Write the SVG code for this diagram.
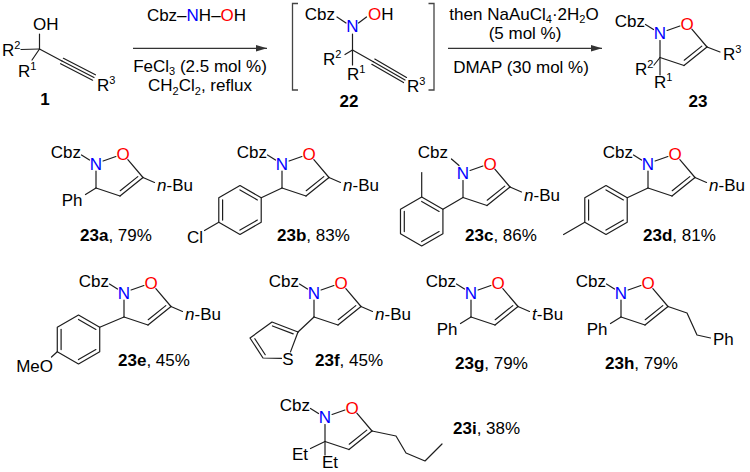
<svg xmlns="http://www.w3.org/2000/svg" width="750" height="472" viewBox="0 0 750 472">
<style>
.b{stroke:#1e1e1e;stroke-width:1.2;fill:none;stroke-linecap:round;stroke-linejoin:round}
.br{stroke:#444;stroke-width:1.3;fill:none}
.ar{stroke:#333;stroke-width:1.3;fill:none}
text{font-family:"Liberation Sans",Arial,sans-serif;font-size:17px;fill:#000}
.m{text-anchor:middle}
.e{text-anchor:end}
.N{fill:#0000ff}
.O{fill:#ff0000}
.bd{font-weight:bold}
.s{font-size:11px}
.i{font-style:italic}
</style>
<defs>
<marker id="ah" markerUnits="userSpaceOnUse" markerWidth="12" markerHeight="8" refX="11" refY="4" orient="auto"><path d="M0,0.8 L11,4 L0,7.2 Z" fill="#333"/></marker>
</defs>
<rect width="750" height="472" fill="#fff"/>

<g id="connectors">
<line class="ar" x1="133" y1="48.3" x2="267" y2="48.3" marker-end="url(#ah)"/>
<line class="ar" x1="448" y1="48.3" x2="602" y2="48.3" marker-end="url(#ah)"/>
</g>

<g id="cond1">
<text class="m" x="196.5" y="21">Cbz–<tspan class="N">N</tspan>H–<tspan class="O">O</tspan>H</text>
<text class="m" x="200" y="71.5">FeCl<tspan class="s" dy="3.5">3</tspan><tspan dy="-3.5"> (2.5 mol %)</tspan></text>
<text class="m" x="200" y="91">CH<tspan class="s" dy="3.5">2</tspan><tspan dy="-3.5">Cl</tspan><tspan class="s" dy="3.5">2</tspan><tspan dy="-3.5">, reflux</tspan></text>
</g>

<g id="cond2">
<text class="m" x="524" y="19.5">then NaAuCl<tspan class="s" dy="3">4</tspan><tspan dy="-3">·2H</tspan><tspan class="s" dy="3">2</tspan><tspan dy="-3">O</tspan></text>
<text class="m" x="525" y="38.5">(5 mol %)</text>
<text class="m" x="521" y="73">DMAP (30 mol %)</text>
</g>

<g id="cpd1">
<text x="33" y="30">OH</text>
<line class="b" x1="39.5" y1="49" x2="39.5" y2="34"/>
<text x="2" y="56">R<tspan class="s" dy="-7">2</tspan></text>
<line class="b" x1="21" y1="49.5" x2="39.5" y2="49"/>
<line class="b" x1="39.5" y1="49" x2="32" y2="60"/>
<text x="18" y="77">R<tspan class="s" dy="-7">1</tspan></text>
<line class="b" x1="39.5" y1="49" x2="62" y2="61"/>
<line class="b" x1="62" y1="61" x2="94" y2="77.5"/>
<line class="b" x1="60.6" y1="63.7" x2="92.6" y2="80.2"/>
<line class="b" x1="63.4" y1="58.3" x2="95.4" y2="74.8"/>
<text x="97" y="91">R<tspan class="s" dy="-7">3</tspan></text>
<text class="m bd" x="45" y="105">1</text>
</g>

<g id="cpd22">
<path class="br" d="M298,3.5 H292.5 V90 H298"/>
<path class="br" d="M428.5,3.5 H434 V90 H428.5"/>
<text class="e" x="335" y="20">Cbz</text>
<line class="b" x1="337" y1="17" x2="346" y2="23"/>
<text class="m N" x="352.5" y="32">N</text>
<line class="b" x1="358.5" y1="23" x2="366.5" y2="17"/>
<text x="368" y="20"><tspan class="O">O</tspan>H</text>
<line class="b" x1="352.5" y1="34" x2="352.5" y2="50"/>
<line class="b" x1="352.5" y1="50" x2="345" y2="54.5"/>
<text x="323" y="65">R<tspan class="s" dy="-7">2</tspan></text>
<line class="b" x1="352.5" y1="50" x2="352.5" y2="65"/>
<text x="347" y="80">R<tspan class="s" dy="-7">1</tspan></text>
<line class="b" x1="352.5" y1="50" x2="373.3" y2="61.7"/>
<line class="b" x1="373.3" y1="61.7" x2="405" y2="80"/>
<line class="b" x1="371.8" y1="64.3" x2="403.5" y2="82.6"/>
<line class="b" x1="374.8" y1="59.1" x2="406.5" y2="77.4"/>
<text x="407" y="92">R<tspan class="s" dy="-7">3</tspan></text>
<text class="m bd" x="349" y="107">22</text>
</g>

<g id="cpd23" transform="translate(660,33)">
<line class="b" x1="-6.5" y1="-3.5" x2="-14.5" y2="-8.5"/>
<text class="e" x="-15" y="-6">Cbz</text>
<text class="m N" x="0" y="6">N</text>
<text class="m O" x="27" y="-3.5">O</text>
<line class="b" x1="7.1" y1="-2.5" x2="19.9" y2="-7"/>
<line class="b" x1="31.85" y1="-3.8" x2="47" y2="14"/>
<line class="b" x1="47" y1="14" x2="24" y2="32.5"/>
<line class="b" x1="24.2" y1="27.2" x2="41.8" y2="13.1"/>
<line class="b" x1="24" y1="32.5" x2="0" y2="24.5"/>
<line class="b" x1="0" y1="24.5" x2="0" y2="7.5"/>
<line class="b" x1="0" y1="24.5" x2="-6" y2="32"/>
<text x="-25" y="42">R<tspan class="s" dy="-7">2</tspan></text>
<line class="b" x1="0" y1="24.5" x2="0" y2="42"/>
<text x="-6" y="54.5">R<tspan class="s" dy="-7">1</tspan></text>
<line class="b" x1="47" y1="14" x2="60" y2="19"/>
<text x="63" y="27">R<tspan class="s" dy="-7">3</tspan></text>
<text class="m bd" x="38" y="74">23</text>
</g>

<g id="p23a" transform="translate(96,163.5)">
<line class="b" x1="-6.5" y1="-3.5" x2="-14.5" y2="-8.5"/>
<text class="e" x="-15" y="-6">Cbz</text>
<text class="m N" x="0" y="6">N</text>
<text class="m O" x="27" y="-3.5">O</text>
<line class="b" x1="7.1" y1="-2.5" x2="19.9" y2="-7"/>
<line class="b" x1="31.85" y1="-3.8" x2="47" y2="14"/>
<line class="b" x1="47" y1="14" x2="24" y2="32.5"/>
<line class="b" x1="24.2" y1="27.2" x2="41.8" y2="13.1"/>
<line class="b" x1="24" y1="32.5" x2="0" y2="24.5"/>
<line class="b" x1="0" y1="24.5" x2="0" y2="7.5"/>
<line class="b" x1="47" y1="14" x2="58.5" y2="19"/>
<text x="61" y="27.5"><tspan class="i">n</tspan>-Bu</text>
<line class="b" x1="0" y1="24.5" x2="-10.5" y2="31"/>
<text class="e" x="-13.5" y="42.5">Ph</text>
</g>
<text x="80" y="241"><tspan class="bd">23a</tspan>, 79%</text>

<g id="p23b" transform="translate(282,163.5)">
<line class="b" x1="-6.5" y1="-3.5" x2="-14.5" y2="-8.5"/>
<text class="e" x="-15" y="-6">Cbz</text>
<text class="m N" x="0" y="6">N</text>
<text class="m O" x="27" y="-3.5">O</text>
<line class="b" x1="7.1" y1="-2.5" x2="19.9" y2="-7"/>
<line class="b" x1="31.85" y1="-3.8" x2="47" y2="14"/>
<line class="b" x1="47" y1="14" x2="24" y2="32.5"/>
<line class="b" x1="24.2" y1="27.2" x2="41.8" y2="13.1"/>
<line class="b" x1="24" y1="32.5" x2="0" y2="24.5"/>
<line class="b" x1="0" y1="24.5" x2="0" y2="7.5"/>
<line class="b" x1="47" y1="14" x2="58.5" y2="19"/>
<text x="61" y="27.5"><tspan class="i">n</tspan>-Bu</text>
<line class="b" x1="0" y1="24.5" x2="-20.78" y2="34.25"/>
<polygon class="b" points="-20.78,34.25 -42,22 -63.22,34.25 -63.22,58.75 -42,71 -20.78,58.75"/>
<line class="b" x1="-24.6" y1="36.45" x2="-42" y2="26.41"/>
<line class="b" x1="-59.4" y1="36.45" x2="-59.4" y2="56.55"/>
<line class="b" x1="-42" y1="66.59" x2="-24.6" y2="56.55"/>
<line class="b" x1="-63.22" y1="58.75" x2="-77.5" y2="67"/>
<text class="e" x="-79" y="79.5">Cl</text>
</g>
<text x="277" y="241"><tspan class="bd">23b</tspan>, 83%</text>

<g id="p23c" transform="translate(463,173)">
<line class="b" x1="-4" y1="-7.5" x2="-11.5" y2="-14"/>
<text class="e" x="-15" y="-15">Cbz</text>
<text class="m N" x="0" y="6">N</text>
<text class="m O" x="27" y="-3.5">O</text>
<line class="b" x1="7.1" y1="-2.5" x2="19.9" y2="-7"/>
<line class="b" x1="31.85" y1="-3.8" x2="47" y2="14"/>
<line class="b" x1="47" y1="14" x2="24" y2="32.5"/>
<line class="b" x1="24.2" y1="27.2" x2="41.8" y2="13.1"/>
<line class="b" x1="24" y1="32.5" x2="0" y2="24.5"/>
<line class="b" x1="0" y1="24.5" x2="0" y2="7.5"/>
<line class="b" x1="47" y1="14" x2="58.5" y2="19"/>
<text x="61" y="27.5"><tspan class="i">n</tspan>-Bu</text>
<line class="b" x1="0" y1="24.5" x2="-20.08" y2="36.25"/>
<polygon class="b" points="-20.08,36.25 -41.3,24 -62.52,36.25 -62.52,60.75 -41.3,73 -20.08,60.75"/>
<line class="b" x1="-23.9" y1="38.45" x2="-41.3" y2="28.41"/>
<line class="b" x1="-58.7" y1="38.45" x2="-58.7" y2="58.55"/>
<line class="b" x1="-41.3" y1="68.59" x2="-23.9" y2="58.55"/>
<line class="b" x1="-41.3" y1="24" x2="-41.3" y2="-0.5"/>
</g>
<text x="465" y="241"><tspan class="bd">23c</tspan>, 86%</text>

<g id="p23d" transform="translate(648,163.5)">
<line class="b" x1="-6.5" y1="-3.5" x2="-14.5" y2="-8.5"/>
<text class="e" x="-15" y="-6">Cbz</text>
<text class="m N" x="0" y="6">N</text>
<text class="m O" x="27" y="-3.5">O</text>
<line class="b" x1="7.1" y1="-2.5" x2="19.9" y2="-7"/>
<line class="b" x1="31.85" y1="-3.8" x2="47" y2="14"/>
<line class="b" x1="47" y1="14" x2="24" y2="32.5"/>
<line class="b" x1="24.2" y1="27.2" x2="41.8" y2="13.1"/>
<line class="b" x1="24" y1="32.5" x2="0" y2="24.5"/>
<line class="b" x1="0" y1="24.5" x2="0" y2="7.5"/>
<line class="b" x1="47" y1="14" x2="58.5" y2="19"/>
<text x="61" y="27.5"><tspan class="i">n</tspan>-Bu</text>
<line class="b" x1="0" y1="24.5" x2="-20.78" y2="34.25"/>
<polygon class="b" points="-20.78,34.25 -42,22 -63.22,34.25 -63.22,58.75 -42,71 -20.78,58.75"/>
<line class="b" x1="-24.6" y1="36.45" x2="-42" y2="26.41"/>
<line class="b" x1="-59.4" y1="36.45" x2="-59.4" y2="56.55"/>
<line class="b" x1="-42" y1="66.59" x2="-24.6" y2="56.55"/>
<line class="b" x1="-63.22" y1="58.75" x2="-84.4" y2="71"/>
</g>
<text x="643" y="241"><tspan class="bd">23d</tspan>, 81%</text>

<g id="p23e" transform="translate(124,292.5)">
<line class="b" x1="-6.5" y1="-3.5" x2="-14.5" y2="-8.5"/>
<text class="e" x="-15" y="-6">Cbz</text>
<text class="m N" x="0" y="6">N</text>
<text class="m O" x="27" y="-3.5">O</text>
<line class="b" x1="7.1" y1="-2.5" x2="19.9" y2="-7"/>
<line class="b" x1="31.85" y1="-3.8" x2="47" y2="14"/>
<line class="b" x1="47" y1="14" x2="24" y2="32.5"/>
<line class="b" x1="24.2" y1="27.2" x2="41.8" y2="13.1"/>
<line class="b" x1="24" y1="32.5" x2="0" y2="24.5"/>
<line class="b" x1="0" y1="24.5" x2="0" y2="7.5"/>
<line class="b" x1="47" y1="14" x2="58.5" y2="19"/>
<text x="61" y="27.5"><tspan class="i">n</tspan>-Bu</text>
<line class="b" x1="0" y1="24.5" x2="-24.28" y2="34.75"/>
<polygon class="b" points="-24.28,34.75 -45.5,22.5 -66.72,34.75 -66.72,59.25 -45.5,71.5 -24.28,59.25"/>
<line class="b" x1="-28.1" y1="36.95" x2="-45.5" y2="26.91"/>
<line class="b" x1="-62.9" y1="36.95" x2="-62.9" y2="57.05"/>
<line class="b" x1="-45.5" y1="67.09" x2="-28.1" y2="57.05"/>
<line class="b" x1="-66.72" y1="59.25" x2="-72.5" y2="64.5"/>
<text class="e" x="-71" y="79.5">MeO</text>
</g>
<text x="118" y="366"><tspan class="bd">23e</tspan>, 45%</text>

<g id="p23f" transform="translate(314,292.5)">
<line class="b" x1="-6.5" y1="-3.5" x2="-14.5" y2="-8.5"/>
<text class="e" x="-15" y="-6">Cbz</text>
<text class="m N" x="0" y="6">N</text>
<text class="m O" x="27" y="-3.5">O</text>
<line class="b" x1="7.1" y1="-2.5" x2="19.9" y2="-7"/>
<line class="b" x1="31.85" y1="-3.8" x2="47" y2="14"/>
<line class="b" x1="47" y1="14" x2="24" y2="32.5"/>
<line class="b" x1="24.2" y1="27.2" x2="41.8" y2="13.1"/>
<line class="b" x1="24" y1="32.5" x2="0" y2="24.5"/>
<line class="b" x1="0" y1="24.5" x2="0" y2="7.5"/>
<line class="b" x1="47" y1="14" x2="58.5" y2="19"/>
<text x="61" y="27.5"><tspan class="i">n</tspan>-Bu</text>
<line class="b" x1="0" y1="24.5" x2="-16" y2="39.5"/>
<polyline class="b" points="-16,39.5 -42,29.5 -64,45.5 -51,65.5 -32.5,65.9"/>
<line class="b" x1="-23.5" y1="59.4" x2="-16" y2="39.5"/>
<line class="b" x1="-20.8" y1="41.4" x2="-41.56" y2="33.44"/>
<line class="b" x1="-59.16" y1="46.24" x2="-48.76" y2="62.24"/>
<text class="m" x="-26" y="72">S</text>
</g>
<text x="315" y="366"><tspan class="bd">23f</tspan>, 45%</text>

<g id="p23g" transform="translate(471,292.5)">
<line class="b" x1="-6.5" y1="-3.5" x2="-14.5" y2="-8.5"/>
<text class="e" x="-15" y="-6">Cbz</text>
<text class="m N" x="0" y="6">N</text>
<text class="m O" x="27" y="-3.5">O</text>
<line class="b" x1="7.1" y1="-2.5" x2="19.9" y2="-7"/>
<line class="b" x1="31.85" y1="-3.8" x2="47" y2="14"/>
<line class="b" x1="47" y1="14" x2="24" y2="32.5"/>
<line class="b" x1="24.2" y1="27.2" x2="41.8" y2="13.1"/>
<line class="b" x1="24" y1="32.5" x2="0" y2="24.5"/>
<line class="b" x1="0" y1="24.5" x2="0" y2="7.5"/>
<line class="b" x1="47" y1="14" x2="58.5" y2="19"/>
<text x="61" y="27.5"><tspan class="i">t</tspan>-Bu</text>
<line class="b" x1="0" y1="24.5" x2="-10.5" y2="31"/>
<text class="e" x="-13.5" y="42.5">Ph</text>
</g>
<text x="455" y="369"><tspan class="bd">23g</tspan>, 79%</text>

<g id="p23h" transform="translate(621,292.5)">
<line class="b" x1="-6.5" y1="-3.5" x2="-14.5" y2="-8.5"/>
<text class="e" x="-15" y="-6">Cbz</text>
<text class="m N" x="0" y="6">N</text>
<text class="m O" x="27" y="-3.5">O</text>
<line class="b" x1="7.1" y1="-2.5" x2="19.9" y2="-7"/>
<line class="b" x1="31.85" y1="-3.8" x2="47" y2="14"/>
<line class="b" x1="47" y1="14" x2="24" y2="32.5"/>
<line class="b" x1="24.2" y1="27.2" x2="41.8" y2="13.1"/>
<line class="b" x1="24" y1="32.5" x2="0" y2="24.5"/>
<line class="b" x1="0" y1="24.5" x2="0" y2="7.5"/>
<polyline class="b" points="47,14 66,20.5 76,42.5 89.5,45.5"/>
<text x="92" y="52.5">Ph</text>
<line class="b" x1="0" y1="24.5" x2="-10.5" y2="31"/>
<text class="e" x="-13.5" y="42.5">Ph</text>
</g>
<text x="605" y="369"><tspan class="bd">23h</tspan>, 79%</text>

<g id="p23i" transform="translate(325,417)">
<line class="b" x1="-6.5" y1="-3.5" x2="-14.5" y2="-8.5"/>
<text class="e" x="-15" y="-6">Cbz</text>
<text class="m N" x="0" y="6">N</text>
<text class="m O" x="27" y="-3.5">O</text>
<line class="b" x1="7.1" y1="-2.5" x2="19.9" y2="-7"/>
<line class="b" x1="31.85" y1="-3.8" x2="47" y2="14"/>
<line class="b" x1="47" y1="14" x2="24" y2="32.5"/>
<line class="b" x1="24.2" y1="27.2" x2="41.8" y2="13.1"/>
<line class="b" x1="24" y1="32.5" x2="0" y2="24.5"/>
<line class="b" x1="0" y1="24.5" x2="0" y2="7.5"/>
<polyline class="b" points="47,14 71,19 81,36 100,44 117,27"/>
<line class="b" x1="0" y1="24.5" x2="-14.5" y2="31.5"/>
<text class="e" x="-17" y="43">Et</text>
<line class="b" x1="0" y1="24.5" x2="0" y2="38"/>
<text x="-3" y="50.5">Et</text>
</g>
<text x="453" y="434"><tspan class="bd">23i</tspan>, 38%</text>
</svg>
